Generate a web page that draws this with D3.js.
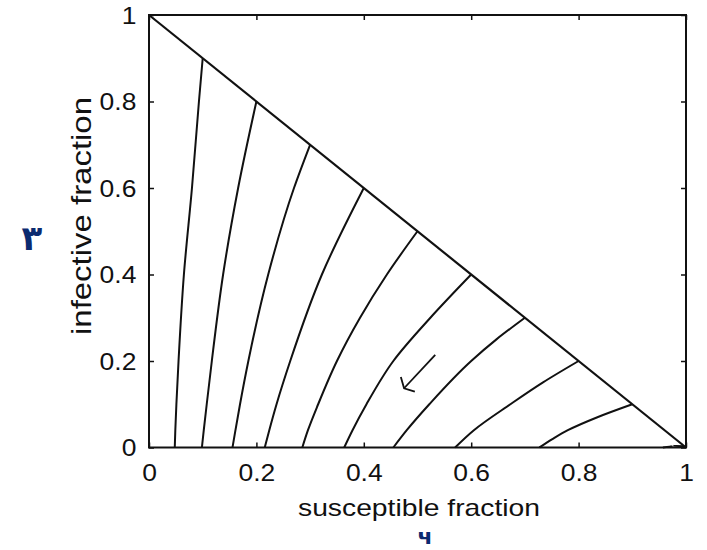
<!DOCTYPE html>
<html>
<head>
<meta charset="utf-8">
<script src="https://cdn.jsdelivr.net/npm/d3@7"></script>
<style>
  body { margin: 0; background: #fff; }
  text { font-family: "Liberation Sans", Arial, sans-serif; fill: #111; }
</style>
</head>
<body>
<div id="wrap"></div>
<script>
// tick values / labels
var tickVals = [0, 0.2, 0.4, 0.6, 0.8, 1];
var tickLabels = ['0', '0.2', '0.4', '0.6', '0.8', '1'];

// trajectories, [susceptible, infective]
var traj1 = [[0.1,0.9],[0.093,0.8],[0.08,0.6],[0.065,0.4],[0.055,0.2],[0.051,0.1],[0.049,0.04],[0.048,0]];
var traj2 = [[0.2,0.8],[0.166,0.6],[0.138,0.4],[0.117,0.2],[0.1075,0.1],[0.102,0.04],[0.0985,0]];
var traj3 = [[0.3,0.7],[0.27,0.6],[0.222,0.4],[0.185,0.2],[0.1695,0.1],[0.161,0.04],[0.1555,0]];
var traj4 = [[0.4,0.6],[0.322,0.4],[0.263,0.2],[0.2375,0.1],[0.224,0.04],[0.2155,0]];
var traj5 = [[0.5,0.5],[0.443,0.4],[0.393,0.3],[0.35,0.2],[0.315,0.1],[0.296,0.04],[0.2855,0]];
var traj6 = [[0.6,0.4],[0.524,0.3],[0.455,0.2],[0.405,0.1],[0.379,0.04],[0.3635,0]];
var traj7 = [[0.7,0.3],[0.647,0.25],[0.6,0.2],[0.522,0.1],[0.48,0.04],[0.455,0]];
var traj8 = [[0.8,0.2],[0.733,0.15],[0.673,0.1],[0.605,0.04],[0.57,0]];
var traj9 = [[0.9,0.1],[0.835,0.07],[0.78,0.04],[0.752,0.02],[0.727,0]];
var traj10 = [[0.997,0.003],[0.975,0.004],[0.957,0]];
var boundary = [[0,1],[1,0]];
var arrowShaft = [[0.533,0.214],[0.475,0.137]];
var arrowHead = [[0.469,0.163],[0.475,0.137],[0.495,0.129]];

var width = 707, height = 550;
var svg = d3.select('#wrap').append('svg')
  .attr('width', width)
  .attr('height', height);

var x = d3.scaleLinear().domain([0,1]).range([149,686]),
    y = d3.scaleLinear().domain([0,1]).range([447.5,15]);

var line = d3.line()
  .x(function(d){return x(d[0]);})
  .y(function(d){return y(d[1]);})
  .curve(d3.curveMonotoneY);

var straight = d3.line()
  .x(function(d){return x(d[0]);})
  .y(function(d){return y(d[1]);});

// axes, ticks pointing inward on all four sides
var fmt = function(d){ return tickLabels[tickVals.indexOf(d)]; };
var xAx = svg.append('g').attr('transform','translate(0,'+y(0)+')')
  .call(d3.axisBottom(x).tickValues(tickVals).tickFormat(fmt).tickSize(-5).tickPadding(17));
var yAx = svg.append('g').attr('transform','translate('+x(0)+',0)')
  .call(d3.axisLeft(y).tickValues(tickVals).tickFormat(fmt).tickSize(-5).tickPadding(11));
svg.append('g').attr('transform','translate(0,'+y(1)+')')
  .call(d3.axisTop(x).tickValues(tickVals).tickFormat('').tickSize(-5));
svg.append('g').attr('transform','translate('+x(1)+',0)')
  .call(d3.axisRight(y).tickValues(tickVals).tickFormat('').tickSize(-5));

svg.selectAll('.domain').remove();
svg.selectAll('.tick line').attr('stroke','#111').attr('stroke-width',1.5);
svg.selectAll('.tick text')
  .attr('font-size', 23)
  .attr('font-family', '"Liberation Sans", Arial, sans-serif')
  .attr('fill', '#111');
xAx.selectAll('.tick text').attr('transform','scale(1.15,1)').attr('dy','0.71em');
yAx.selectAll('.tick text').attr('transform','scale(1.15,1)').attr('dy','0.36em');

svg.append('rect')
  .attr('x', x(0)).attr('y', y(1))
  .attr('width', x(1)-x(0)).attr('height', y(0)-y(1))
  .attr('fill','none').attr('stroke','#111').attr('stroke-width',2);

var trajs = [traj1,traj2,traj3,traj4,traj5,traj6,traj7,traj8,traj9,traj10];
svg.selectAll('.traj')
  .data(trajs)
  .enter().append('path')
    .attr('class','traj')
    .attr('d', line)
    .attr('fill','none')
    .attr('stroke','#111')
    .attr('stroke-width',2);

svg.append('path').attr('d', straight(boundary))
  .attr('fill','none').attr('stroke','#111').attr('stroke-width',2.2);

svg.append('path').attr('d', straight(arrowShaft))
  .attr('fill','none').attr('stroke','#111').attr('stroke-width',1.8);
svg.append('path').attr('d', straight(arrowHead))
  .attr('fill','none').attr('stroke','#111').attr('stroke-width',1.8);

// axis titles
svg.append('text')
  .attr('x', 419).attr('y', 516)
  .attr('text-anchor','middle')
  .attr('font-size', 24)
  .attr('textLength', 242).attr('lengthAdjust','spacingAndGlyphs')
  .text('susceptible fraction');

svg.append('text')
  .attr('transform','translate(91,216) rotate(-90)')
  .attr('text-anchor','middle')
  .attr('font-size', 28)
  .attr('textLength', 238).attr('lengthAdjust','spacingAndGlyphs')
  .text('infective fraction');

// handwritten marks
svg.append('text')
  .attr('x', 32).attr('y', 250)
  .attr('text-anchor','middle')
  .attr('font-size', 34).attr('font-weight','bold')
  .style('font-family','"DejaVu Sans", sans-serif')
  .style('fill','#0b2a6f')
  .text('٣');
svg.append('text')
  .attr('x', 425).attr('y', 544)
  .attr('text-anchor','middle')
  .attr('font-size', 22).attr('font-weight','bold')
  .style('font-family','"DejaVu Sans", sans-serif')
  .style('fill','#0b2a6f')
  .text('ч');
</script>
</body>
</html>
